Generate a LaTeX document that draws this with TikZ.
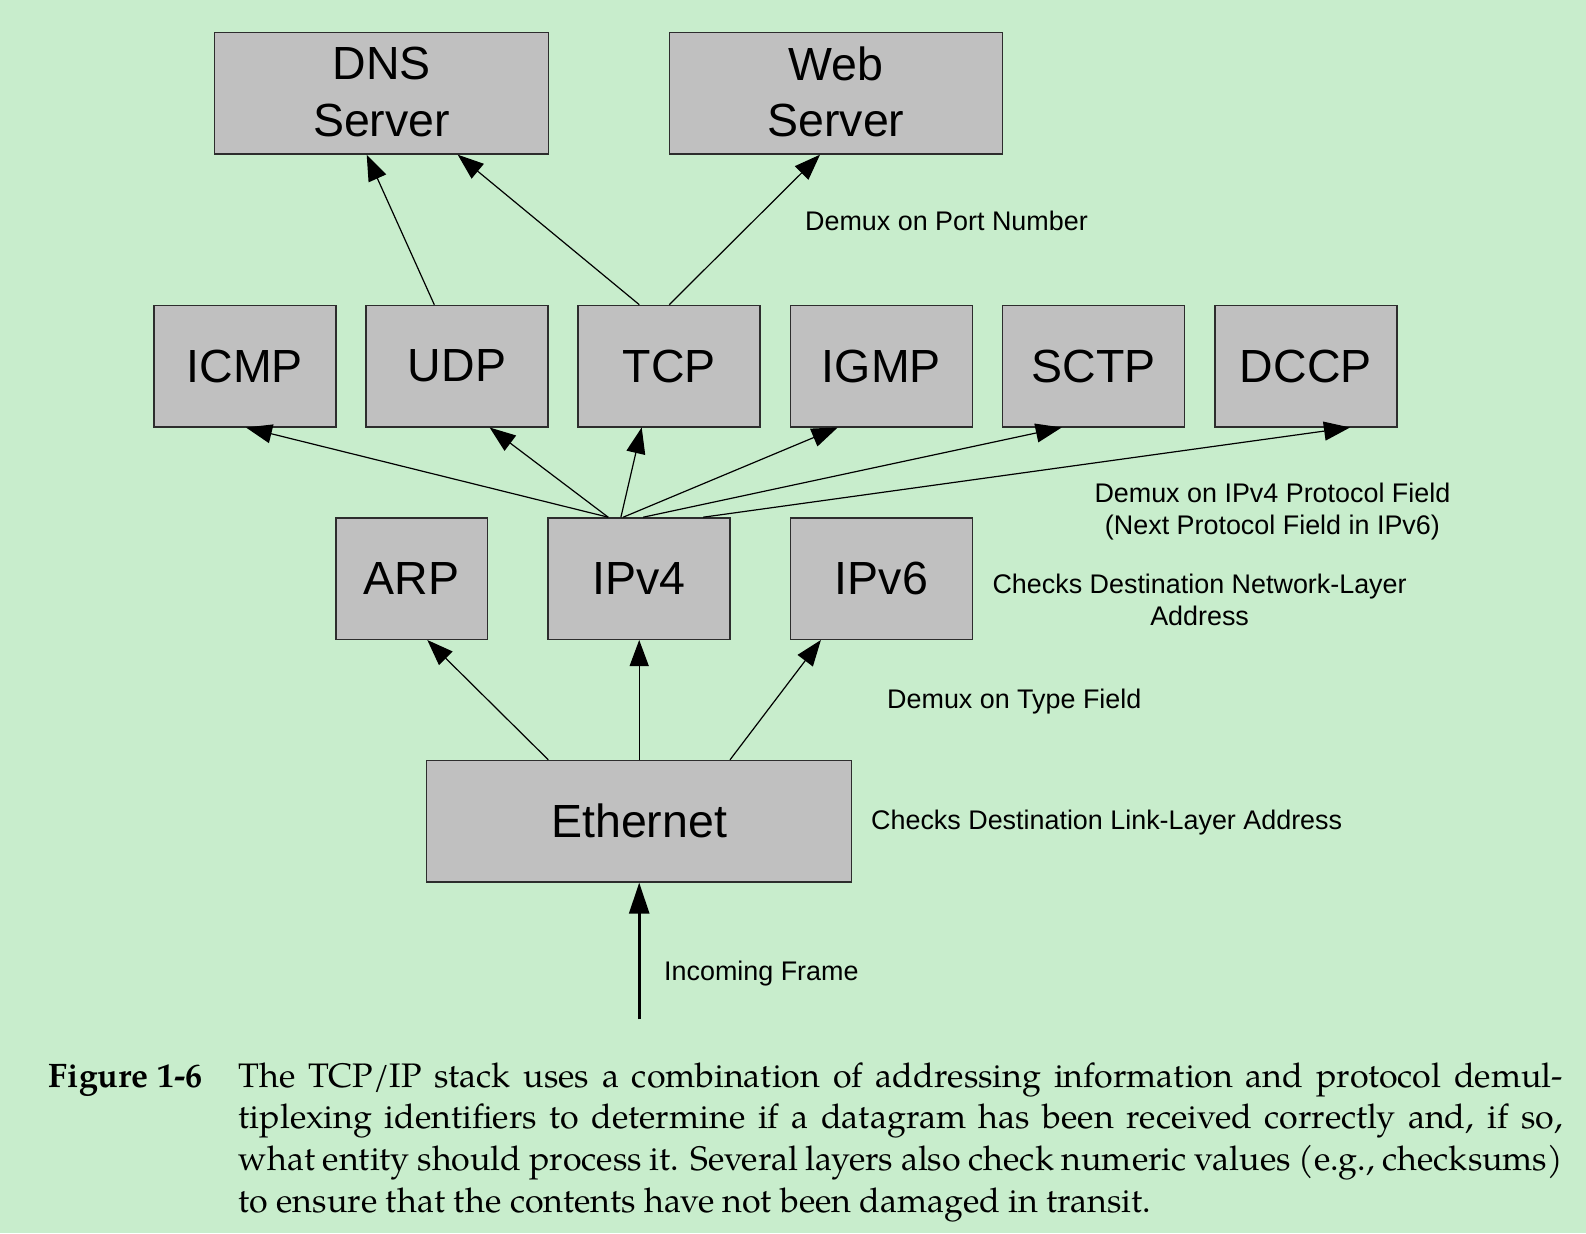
\documentclass[tikz,border=0pt]{standalone}
\usepackage{fontspec}
\setmainfont{Liberation Sans}
\newfontfamily\capfont{texgyrepagella}[Extension=.otf,UprightFont=*-regular,BoldFont=*-bold]
\usetikzlibrary{arrows.meta}
\definecolor{bgcol}{RGB}{200,237,204}
\definecolor{boxfill}{RGB}{192,192,192}
\definecolor{boxline}{RGB}{45,45,45}
\begin{document}
\begin{tikzpicture}[x=1pt,y=-1pt,
  layerbox/.style={draw=boxline, fill=boxfill, line width=1.5pt, inner sep=0pt,
    minimum height=121.3pt, font=\fontsize{46.5}{56.6}\selectfont, align=center},
  demux/.style={draw=black, line width=1.2pt, -{Triangle[length=26pt,width=19pt]}},
  inarrow/.style={draw=black, line width=2.6pt, -{Triangle[length=31pt,width=20pt]}},
  note/.style={inner sep=0pt, font=\fontsize{26.9}{32}\selectfont}
]
\fill[bgcol] (0,0) rectangle (1586,1233);
\useasboundingbox (0,0) rectangle (1586,1233);

% boxes
\node[layerbox, minimum width=334pt, text depth=3pt] (dns) at (381.6,93.3) {DNS\\Server};
\node[layerbox, minimum width=333pt, text depth=3pt] (web) at (836,93.3) {Web\\Server};

\node[layerbox, minimum width=182pt] (icmp) at (244.8,366.1) {ICMP};
\node[layerbox, minimum width=182pt] (udp)  at (457.0,366.1) {UDP};
\node[layerbox, minimum width=182pt] (tcp)  at (669.2,366.1) {TCP};
\node[layerbox, minimum width=182pt] (igmp) at (881.4,366.1) {IGMP};
\node[layerbox, minimum width=182pt] (sctp) at (1093.6,366.1) {SCTP};
\node[layerbox, minimum width=182pt] (dccp) at (1305.8,366.1) {DCCP};

\node[layerbox, minimum width=151.7pt] (arp) at (411.6,578.6) {ARP};
\node[layerbox, minimum width=182pt] (ipv4) at (639.2,578.6) {IPv4};
\node[layerbox, minimum width=182pt] (ipv6) at (881.4,578.6) {IPv6};

\node[layerbox, minimum width=425pt] (eth) at (639.2,821.2) {Ethernet};

% arrows
\draw[demux] ([xshift=-22.7pt]udp.north) -- ([xshift=-14.9pt]dns.south);
\draw[demux] ([xshift=-29.9pt]tcp.north) -- ([xshift=76.1pt]dns.south);
\draw[demux] ([xshift=0pt]tcp.north) -- ([xshift=-16pt]web.south);

\draw[demux] ([xshift=-31pt]ipv4.north) -- ([xshift=1.2pt]icmp.south);
\draw[demux] ([xshift=-31pt]ipv4.north) -- ([xshift=32.6pt]udp.south);
\draw[demux] ([xshift=-18.3pt]ipv4.north) -- ([xshift=-27.5pt]tcp.south);
\draw[demux] ([xshift=-16pt]ipv4.north) -- ([xshift=-43.7pt]igmp.south);
\draw[demux] ([xshift=4pt]ipv4.north) -- ([xshift=-31.9pt]sctp.south);
\draw[demux] ([xshift=64pt]ipv4.north) -- ([xshift=44.2pt]dccp.south);

\draw[demux] ([xshift=-90.9pt]eth.north) -- ([xshift=15.7pt]arp.south);
\draw[demux] (eth.north) -- (ipv4.south);
\draw[demux] ([xshift=90.8pt]eth.north) -- ([xshift=-60.5pt]ipv6.south);

\coordinate (frame) at (639.2,1019.3);
\draw[inarrow] (frame) -- (eth.south);

% labels
\node[note, anchor=base west] (lport) at (805,230.8) {Demux on Port Number};
\node[note, align=center] (lproto) at (1272.4,511.8) {Demux on IPv4 Protocol Field\\(Next Protocol Field in IPv6)};
\node[note, align=center] (lnet) at (1199.6,599.9) {Checks Destination Network-Layer\\Address};
\node[note, anchor=base west] (ltype) at (887,708.6) {Demux on Type Field};
\node[note, anchor=base west] (llink) at (871,829.6) {Checks Destination Link-Layer Address};
\node[note, anchor=base west] (lframe) at (664,980.7) {Incoming Frame};

% caption
\node[inner sep=0pt, anchor=base west, font=\capfont\bfseries\fontsize{34}{42}\selectfont] (figlabel) at (48.6,1087) {Figure 1-6};
\node[inner sep=0pt, anchor=base west] (caption) at (238.7,1087) {\parbox[t]{1324pt}{\capfont\fontsize{34}{41.9}\selectfont
\tolerance=9999 \hbadness=10000 \emergencystretch=20pt
The TCP/IP stack uses a combination of addressing information and protocol demul-\linebreak
tiplexing identifiers to determine if a datagram has been received correctly and, if so,\linebreak
what entity should process it. Several layers also check numeric values (e.g.,~checksums)\linebreak
to ensure that the contents have not been damaged in transit.}};
\end{tikzpicture}
\end{document}
